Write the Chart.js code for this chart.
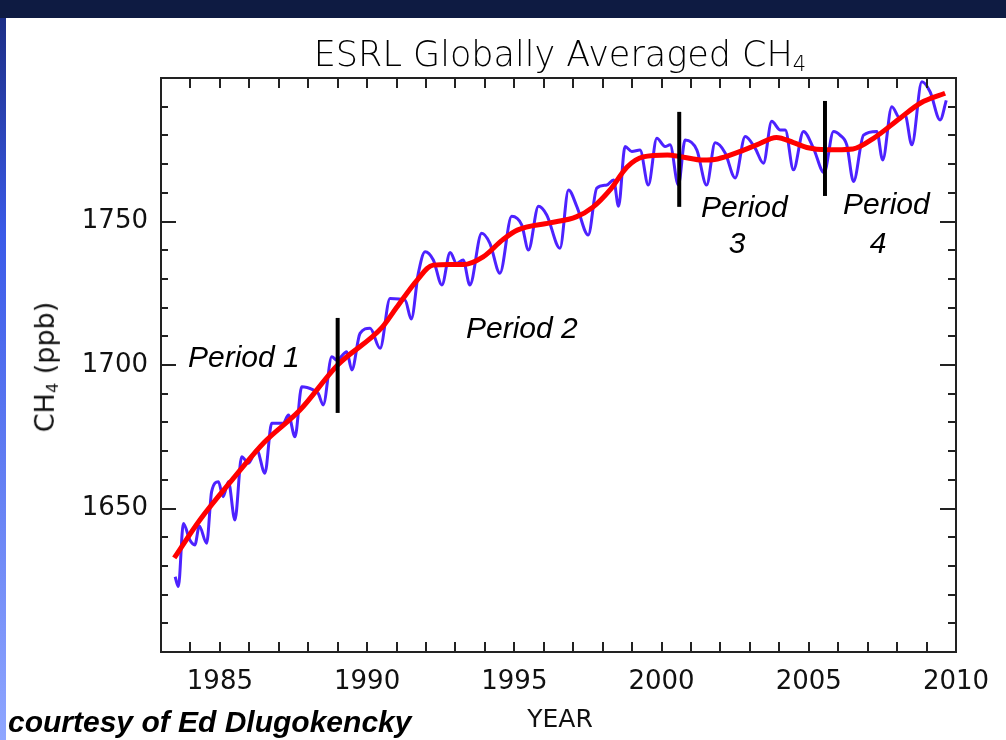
<!DOCTYPE html>
<html>
<head>
<meta charset="utf-8">
<script src="https://cdn.jsdelivr.net/npm/chart.js@4/dist/chart.umd.min.js"></script>
<style>
  html, body { margin: 0; padding: 0; background: #fff; }
  body { width: 1006px; height: 740px; position: relative; overflow: hidden; }
  #topBand { position: absolute; left: 0; top: 0; width: 1006px; height: 18px; background: #0e1b42; }
  #leftBand { position: absolute; left: 0; top: 18px; width: 6px; height: 722px;
    background: linear-gradient(#1c2e86, #3a5ae8 30%, #8fa6ff); }
  canvas { position: absolute; left: 0; top: 0; }
  .txt { position: absolute; white-space: nowrap; line-height: 1; color: #111; }
  .idl { font-family: "DejaVu Sans", sans-serif; }
  .period { font-family: "Liberation Sans", Arial, sans-serif; font-style: italic; font-size: 30px; color: #000; }
  sub { font-size: 0.6em; vertical-align: -0.25em; }
</style>
</head>
<body>
<canvas id="ch4Chart" width="1006" height="740"></canvas>
<div id="topBand"></div>
<div id="leftBand"></div>

<div class="txt idl" style="left:560px; top:37px; font-size:35px; font-weight:200; color:#000; transform:translateX(-50%);">ESRL Globally Averaged CH<sub>4</sub></div>
<div class="txt idl" style="left:46px; top:367px; font-size:27px; transform:translate(-50%,-50%) rotate(-90deg);">CH<sub>4</sub> (ppb)</div>
<div class="txt idl" style="left:560px; top:706px; font-size:25px; transform:translateX(-50%);">YEAR</div>

<div class="txt period" style="left:188px; top:342px;">Period 1</div>
<div class="txt period" style="left:466px; top:313px;">Period 2</div>
<div class="txt period" style="left:701px; top:192px;">Period</div>
<div class="txt period" style="left:737px; top:228px; transform:translateX(-50%);">3</div>
<div class="txt period" style="left:843px; top:189px;">Period</div>
<div class="txt period" style="left:878px; top:228px; transform:translateX(-50%);">4</div>

<div class="txt" style="left:8px; top:707px; font-family:'Liberation Sans', Arial, sans-serif; font-weight:bold; font-style:italic; font-size:30px; color:#000;">courtesy of Ed Dlugokencky</div>

<script>
// monthly-ish globally averaged CH4 (blue)
const blueYears = [
  1983.48, 1983.59, 1983.76, 1983.98, 1984.15, 1984.30, 1984.55, 1984.72, 1984.95, 1985.11,
  1985.29, 1985.51, 1985.74, 1985.97, 1986.25, 1986.53, 1986.76, 1987.15, 1987.33, 1987.55,
  1987.78, 1988.17, 1988.34, 1988.51, 1988.80, 1988.97, 1989.31, 1989.48, 1989.76, 1990.10,
  1990.44, 1990.78, 1991.29, 1991.50, 1991.74, 1991.97, 1992.25, 1992.54, 1992.82, 1993.04,
  1993.26, 1993.49, 1993.89, 1994.17, 1994.51, 1994.91, 1995.25, 1995.48, 1995.82, 1996.10,
  1996.55, 1996.84, 1997.12, 1997.51, 1997.80, 1998.14, 1998.37, 1998.54, 1998.76, 1998.99,
  1999.27, 1999.55, 1999.84, 2000.12, 2000.29, 2000.57, 2000.80, 2001.20, 2001.53, 2001.82,
  2002.16, 2002.50, 2002.84, 2003.18, 2003.46, 2003.74, 2004.03, 2004.20, 2004.48, 2004.82,
  2005.16, 2005.52, 2005.84, 2006.06, 2006.29, 2006.52, 2006.86, 2007.31, 2007.51, 2007.82,
  2008.10, 2008.27, 2008.50, 2008.84, 2009.12, 2009.46, 2009.67
];
const blueCH4 = [
  1626.2, 1622.8, 1644.8, 1639.0, 1637.3, 1643.9, 1637.9, 1655.9, 1659.3, 1654.1,
  1659.3, 1646.0, 1668.0, 1665.8, 1670.5, 1662.3, 1679.7, 1679.7, 1682.6, 1675.0,
  1692.4, 1691.3, 1690.1, 1686.1, 1702.9, 1701.7, 1704.6, 1698.3, 1711.0, 1712.8,
  1705.8, 1723.2, 1722.6, 1716.0, 1732.0, 1739.5, 1736.6, 1727.9, 1739.2, 1735.4,
  1736.6, 1727.9, 1745.9, 1742.4, 1732.0, 1751.8, 1748.8, 1740.1, 1755.3, 1752.3,
  1740.7, 1761.0, 1755.3, 1745.3, 1761.6, 1762.7, 1764.5, 1755.3, 1776.1, 1774.4,
  1774.9, 1762.7, 1779.0, 1776.1, 1776.7, 1762.7, 1778.4, 1774.9, 1762.7, 1777.4,
  1773.9, 1765.2, 1779.6, 1775.5, 1770.3, 1784.9, 1781.9, 1781.9, 1768.0, 1781.4,
  1775.5, 1767.0, 1781.4, 1780.1, 1776.7, 1763.9, 1780.1, 1781.4, 1771.4, 1790.0,
  1785.9, 1787.1, 1776.7, 1798.7, 1795.2, 1785.4, 1792.2
];

// deseasonalized trend (red)
const trendYears = [
  1983.45, 1984.32, 1985.50, 1986.50, 1987.72, 1989.00, 1990.50, 1991.00, 1991.70, 1992.24,
  1992.82, 1993.26, 1993.94, 1994.60, 1995.10, 1996.20, 1997.10, 1997.67, 1998.25, 1998.83,
  1999.37, 2000.20, 2000.70, 2001.40, 2001.90, 2002.67, 2003.23, 2003.90, 2004.48, 2004.93,
  2005.60, 2006.50, 2007.20, 2008.10, 2008.80, 2009.63
];
const trendCH4 = [
  1632.8, 1646.0, 1661.0, 1673.0, 1684.3, 1700.0, 1713.0, 1720.0, 1729.6, 1734.8,
  1735.0, 1735.0, 1737.7, 1743.6, 1747.0, 1749.5, 1751.6, 1755.0, 1761.0, 1769.0,
  1772.5, 1773.2, 1772.5, 1771.4, 1771.8, 1774.4, 1776.7, 1779.3, 1777.5, 1775.8,
  1775.0, 1775.3, 1779.0, 1786.0, 1791.3, 1794.7
];

// period dividers
const dividerYears = [1989.0, 2000.6, 2005.55];
const dividerLow = [1683.3, 1755.1, 1758.9];
const dividerHigh = [1716.4, 1788.2, 1792.0];

const xTickValues = [1985, 1990, 1995, 2000, 2005, 2010];
const yTickValues = [1650, 1700, 1750];

const pts = (xs, ys) => xs.map((v, i) => ({ x: v, y: ys[i] }));

const dividerSets = dividerYears.map((yr, i) => ({
  data: [{ x: yr, y: dividerLow[i] }, { x: yr, y: dividerHigh[i] }],
  borderColor: '#000',
  borderWidth: 4,
  pointRadius: 0,
  order: 0
}));

// frame with inward ticks on all four sides
const frameTicks = {
  id: 'frameTicks',
  afterDatasetsDraw(chart) {
    const { ctx, chartArea: a, scales: { x, y } } = chart;
    ctx.save();
    ctx.strokeStyle = '#222';
    ctx.lineWidth = 2;
    ctx.beginPath();
    for (let yr = x.min + 1; yr < x.max; yr++) {
      const px = Math.round(x.getPixelForValue(yr));
      ctx.moveTo(px, a.bottom); ctx.lineTo(px, a.bottom - 10);
      ctx.moveTo(px, a.top); ctx.lineTo(px, a.top + 10);
    }
    for (let v = y.min + 10; v < y.max; v += 10) {
      const py = Math.round(y.getPixelForValue(v));
      const len = v % 50 === 0 ? 15 : 7;
      ctx.moveTo(a.left, py); ctx.lineTo(a.left + len, py);
      ctx.moveTo(a.right, py); ctx.lineTo(a.right - len - 1, py);
    }
    ctx.stroke();
    ctx.strokeRect(a.left, a.top, a.right - a.left, a.bottom - a.top);
    ctx.restore();
  }
};

new Chart(document.getElementById('ch4Chart'), {
  type: 'line',
  data: {
    datasets: [
      ...dividerSets,
      {
        data: pts(trendYears, trendCH4),
        borderColor: '#ff0000',
        borderWidth: 5,
        pointRadius: 0,
        cubicInterpolationMode: 'monotone',
        order: 1
      },
      {
        data: pts(blueYears, blueCH4),
        borderColor: '#4d22ff',
        borderWidth: 3,
        pointRadius: 0,
        cubicInterpolationMode: 'monotone',
        order: 2
      }
    ]
  },
  options: {
    responsive: false,
    animation: false,
    devicePixelRatio: 1,
    layout: { padding: { top: 78, right: 50, left: 0, bottom: 0 } },
    plugins: { legend: { display: false }, tooltip: { enabled: false } },
    scales: {
      x: {
        type: 'linear',
        min: 1983,
        max: 2010,
        grid: { display: false, drawTicks: false },
        border: { display: false },
        afterFit: s => { s.height = 88; },
        afterBuildTicks: s => { s.ticks = xTickValues.map(v => ({ value: v })); },
        ticks: {
          padding: 15,
          maxRotation: 0,
          autoSkip: false,
          color: '#111',
          font: { family: 'DejaVu Sans', size: 26 },
          callback: v => String(v)
        }
      },
      y: {
        min: 1600,
        max: 1800,
        grid: { display: false, drawTicks: false },
        border: { display: false },
        afterFit: s => { s.width = 161; },
        afterBuildTicks: s => { s.ticks = yTickValues.map(v => ({ value: v })); },
        ticks: {
          padding: 13,
          color: '#111',
          font: { family: 'DejaVu Sans', size: 26 },
          callback: v => String(v)
        }
      }
    }
  },
  plugins: [frameTicks]
});
</script>
</body>
</html>
